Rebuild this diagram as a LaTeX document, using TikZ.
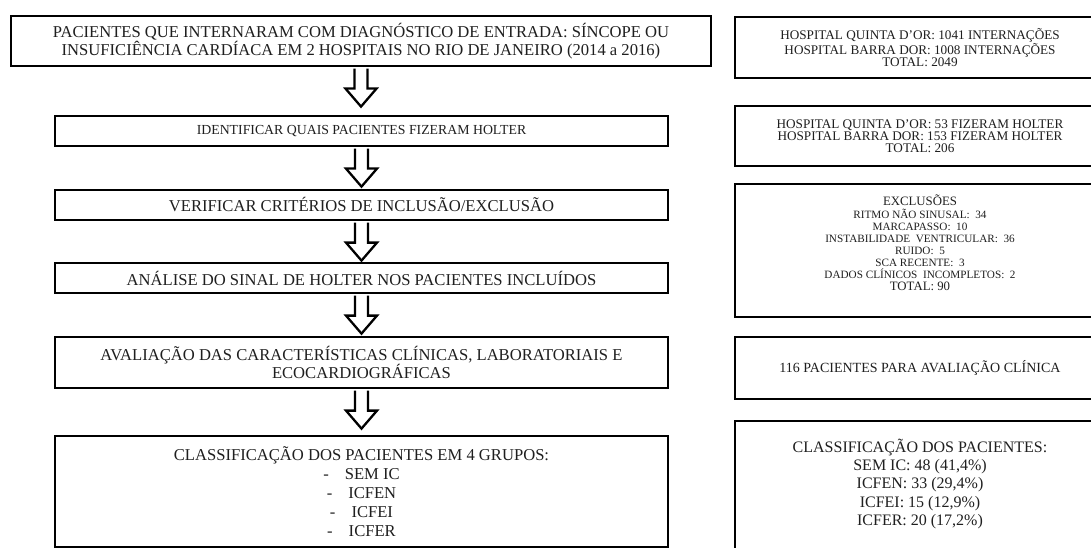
\documentclass[tikz,border=0pt]{standalone}
\usepackage{fontspec}
\setmainfont{Liberation Serif}
\usetikzlibrary{calc}
\newcommand\blockarr[2]{%
  \coordinate (ta) at ($(#1.south)+(0,1.3)$);
  \coordinate (tb) at ($(ta)!38pt!(ta |- #2.north)$);
  \coordinate (tm) at ($(ta)!20pt!(ta |- #2.north)$);
  \draw[barrow] ($(ta)+(-6.5,0)$) -- ($(tm)+(-6.5,0)$) -- ($(tm)+(-15.5,0)$) -- (tb) -- ($(tm)+(15.5,0)$) -- ($(tm)+(6.5,0)$) -- ($(ta)+(6.5,0)$);}
\begin{document}
\begin{tikzpicture}[x=1pt,y=-1pt,
  boxline/.style={draw=black, line width=2.6pt},
  box/.style={boxline, fill=white, align=center, inner sep=0pt, text=black!88,
    font=\fontsize{16.6}{18.6}\selectfont},
  rbox/.style={box, font=\fontsize{13.2}{12}\selectfont},
  barrow/.style={draw=black, line width=2.3pt, fill=white, line join=miter}]
\useasboundingbox (0,0) rectangle (1091,548);
\fill[white] (0,0) rectangle (1091,548);
% left column
\node[box, minimum width=700, minimum height=50] (n1) at (361,41)
  {PACIENTES QUE INTERNARAM COM DIAGNÓSTICO DE ENTRADA: SÍNCOPE OU\\
   INSUFICIÊNCIA CARDÍACA EM 2 HOSPITAIS NO RIO DE JANEIRO (2014 a 2016)};
\node[box, minimum width=613, minimum height=30, font=\fontsize{13.8}{16}\selectfont] (n2) at (361.5,131)
  {IDENTIFICAR QUAIS PACIENTES FIZERAM HOLTER};
\node[box, minimum width=613, minimum height=30] (n3) at (361.5,205)
  {VERIFICAR CRITÉRIOS DE INCLUSÃO/EXCLUSÃO};
\node[box, minimum width=613, minimum height=30] (n4) at (361.5,278)
  {ANÁLISE DO SINAL DE HOLTER NOS PACIENTES INCLUÍDOS};
\node[box, minimum width=613, minimum height=51] (n5) at (361.5,362.5)
  {AVALIAÇÃO DAS CARACTERÍSTICAS CLÍNICAS, LABORATORIAIS E\\
   ECOCARDIOGRÁFICAS};
\node[box, minimum width=613, minimum height=111, font=\fontsize{16.6}{19}\selectfont] (n6) at (361.5,491.5)
  {CLASSIFICAÇÃO DOS PACIENTES EM 4 GRUPOS:\\
   -\hspace{16pt}SEM IC\\
   -\hspace{16pt}ICFEN\\
   -\hspace{16pt}ICFEI\\
   -\hspace{16pt}ICFER};
% arrows
\blockarr{n1}{n2}
\blockarr{n2}{n3}
\blockarr{n3}{n4}
\blockarr{n4}{n5}
\blockarr{n5}{n6}
% right column
\node[rbox, minimum width=370, minimum height=61] (r1) at (920,47.5)
  {HOSPITAL QUINTA D’OR: 1041 INTERNAÇÕES\\
   HOSPITAL BARRA DOR: 1008 INTERNAÇÕES\\
   TOTAL: 2049};
\node[rbox, minimum width=370, minimum height=60] (r2) at (920,136)
  {HOSPITAL QUINTA D’OR: 53 FIZERAM HOLTER\\
   HOSPITAL BARRA DOR: 153 FIZERAM HOLTER\\
   TOTAL: 206};
\node[rbox, minimum width=370, minimum height=133, font=\fontsize{12.8}{12}\selectfont] (r3) at (920,250.5)
  {EXCLUSÕES\\[1.5pt]
   {\fontsize{11.2}{12}\selectfont RITMO NÃO SINUSAL:\ \ 34}\\
   {\fontsize{11.2}{12}\selectfont MARCAPASSO:\ \ 10}\\
   {\fontsize{11.2}{12}\selectfont INSTABILIDADE\ \ VENTRICULAR:\ \ 36}\\
   {\fontsize{11.2}{12}\selectfont RUIDO:\ \ 5}\\
   {\fontsize{11.2}{12}\selectfont SCA RECENTE:\ \ 3}\\
   {\fontsize{11.2}{12}\selectfont DADOS CLÍNICOS\ \ INCOMPLETOS:\ \ 2}\\
   TOTAL: 90\\[4pt]};
\node[rbox, minimum width=370, minimum height=62, font=\fontsize{14}{16}\selectfont] (r4) at (920,368)
  {116 PACIENTES PARA AVALIAÇÃO CLÍNICA};
\draw[boxline] (735,421) rectangle (1105,575);
\node[align=center, text=black!88, font=\fontsize{16}{18.3}\selectfont] (r5) at (920,484)
  {CLASSIFICAÇÃO DOS PACIENTES:\\
   SEM IC: 48 (41,4\%)\\
   ICFEN: 33 (29,4\%)\\
   ICFEI: 15 (12,9\%)\\
   ICFER: 20 (17,2\%)};
\end{tikzpicture}
\end{document}
